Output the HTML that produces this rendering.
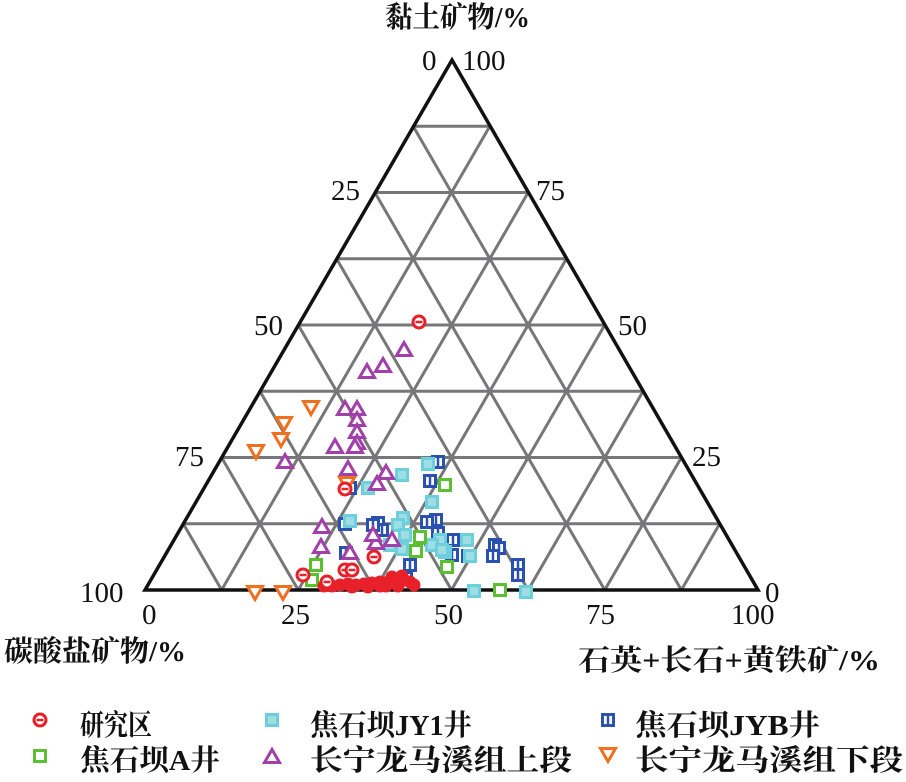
<!DOCTYPE html>
<html><head><meta charset="utf-8"><style>
body{margin:0;background:#fff;width:906px;height:777px;overflow:hidden}
text{font-family:"Liberation Serif","Noto Serif CJK SC",serif;fill:#111}
.c{font-family:"Liberation Serif","Noto Serif CJK SC",serif;font-weight:bold}
</style></head><body>
<svg id="s" width="906" height="777" viewBox="0 0 906 777" xmlns="http://www.w3.org/2000/svg">
<g id="grid" stroke="#77777a" stroke-width="3" fill="none"></g>
<polygon points="452,60 145,590 758,590" fill="none" stroke="#111" stroke-width="3.5"/>
<g id="m"></g>
<g font-size="29">
<text class="c" x="385" y="27" textLength="145" lengthAdjust="spacingAndGlyphs">黏土矿物/%</text>
<text x="422" y="70">0</text><text x="462" y="70">100</text>
<text x="331" y="200">25</text><text x="536" y="200">75</text>
<text x="254" y="335">50</text><text x="618" y="335">50</text>
<text x="175" y="466">75</text><text x="692" y="466">25</text>
<text x="80" y="602">100</text><text x="765" y="602">0</text>
<text x="142" y="624">0</text><text x="281" y="624">25</text><text x="434" y="624">50</text><text x="586" y="624">75</text><text x="731" y="624">100</text>
<text class="c" x="4" y="661" textLength="182" lengthAdjust="spacingAndGlyphs">碳酸盐矿物/%</text>
<text class="c" x="578" y="670" textLength="302" lengthAdjust="spacingAndGlyphs">石英+长石+黄铁矿/%</text>
<text class="c" x="80" y="735" textLength="72" lengthAdjust="spacingAndGlyphs">研究区</text>
<text class="c" x="310" y="735" textLength="162" lengthAdjust="spacingAndGlyphs">焦石坝JY1井</text>
<text class="c" x="635" y="735" textLength="185" lengthAdjust="spacingAndGlyphs">焦石坝JYB井</text>
<text class="c" x="80" y="770" textLength="140" lengthAdjust="spacingAndGlyphs">焦石坝A井</text>
<text class="c" x="310" y="770" textLength="262" lengthAdjust="spacingAndGlyphs">长宁龙马溪组上段</text>
<text class="c" x="635" y="770" textLength="268" lengthAdjust="spacingAndGlyphs">长宁龙马溪组下段</text>
</g>
</svg>
<script>
var NS="http://www.w3.org/2000/svg",g=document.getElementById('grid'),m=document.getElementById('m');
function L(a,b,c,d){var l=document.createElementNS(NS,'line');l.setAttribute('x1',a);l.setAttribute('y1',b);l.setAttribute('x2',c);l.setAttribute('y2',d);g.appendChild(l);}
var dx=38.3125,dy=66.25;
for(var k=1;k<8;k++){var y=590-dy*k;L(145+dx*k,y,758-dx*k,y);
var xb=145+2*dx*k;L(xb,590,758-dx*(8-k),590-dy*(8-k));L(xb,590,145+dx*k,590-dy*k);}
function add(h){m.insertAdjacentHTML('beforeend',h);}
function circ(x,y){add('<circle cx="'+x+'" cy="'+y+'" r="6" fill="#fff" stroke="#e8202a" stroke-width="3"/><line x1="'+(x-3.5)+'" y1="'+y+'" x2="'+(x+3.5)+'" y2="'+y+'" stroke="#e8202a" stroke-width="2.5"/>');}
function sq(x,y,c,t){add('<rect x="'+(x-5.5)+'" y="'+(y-5.5)+'" width="11" height="11" fill="'+(t==1?'#9fdde5':'#fff')+'" stroke="'+c+'" stroke-width="3"/>');
 if(t==2)add('<line x1="'+x+'" y1="'+(y-4)+'" x2="'+x+'" y2="'+(y+4)+'" stroke="'+c+'" stroke-width="2.5"/>');}
function tri(x,y){add('<polygon points="'+x+','+(y-7.5)+' '+(x-7.5)+','+(y+5.5)+' '+(x+7.5)+','+(y+5.5)+'" fill="#fff" stroke="#a040a8" stroke-width="3"/>');}
function itri(x,y){add('<polygon points="'+x+','+(y+7.5)+' '+(x-7.5)+','+(y-5.5)+' '+(x+7.5)+','+(y-5.5)+'" fill="#fff" stroke="#f07020" stroke-width="3"/>');}
[[438,462],[350,488],[430,481],[436,520],[345,524],[378,523],[382,530],[436,545],[438,533],[453,540],[346,553],[452,555],[495,545],[499,548],[493,556],[468,556],[518,565],[518,575],[410,565],[406,578],[427,522],[373,525]].forEach(function(p){sq(p[0],p[1],'#2a50b0',2)});
[[428,464],[402,475],[368,488],[432,502],[403,518],[350,521],[398,525],[405,535],[390,545],[402,549],[440,540],[445,552],[467,540],[432,545],[442,550],[470,556],[474,591],[526,592]].forEach(function(p){sq(p[0],p[1],'#6ccfdc',1)});
[[445,485],[420,537],[416,551],[447,567],[316,565],[312,580],[500,590]].forEach(function(p){sq(p[0],p[1],'#5ac030',0)});
[[404,350],[383,366],[367,372],[345,409],[357,409],[357,420],[357,432],[357,443],[335,447],[355,447],[285,462],[348,469],[386,473],[377,484],[322,527],[321,547],[350,553],[376,543],[373,535],[392,540]].forEach(function(p){tri(p[0],p[1])});
[[311,407],[284,423],[281,439],[256,451],[347,483],[255,592],[283,592]].forEach(function(p){itri(p[0],p[1])});
var bl=[[324,586],[332,586],[340,585],[348,584],[356,585],[364,584],[372,583],[380,582],[388,582],[396,581],[404,580],[410,582],[414,585],[398,586],[386,586],[368,587],[352,587],[392,577],[402,576],[380,586]];
bl.forEach(function(p){add('<circle cx="'+p[0]+'" cy="'+p[1]+'" r="6.5" fill="#e8202a"/>')});
[[419,322],[345,489],[374,557],[303,575],[327,582],[345,570],[352,570]].forEach(function(p){circ(p[0],p[1])});
circ(40,720);sq(272,720,'#6ccfdc',1);sq(608,720,'#2a50b0',2);sq(40,756,'#5ac030',0);tri(272,757);itri(608,754);
</script>
</body></html>
